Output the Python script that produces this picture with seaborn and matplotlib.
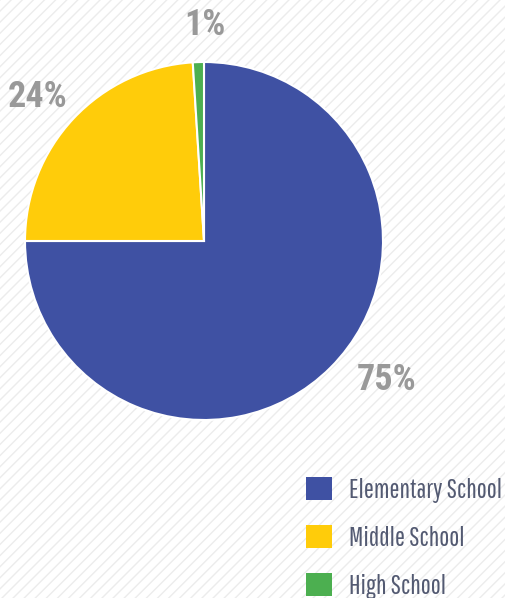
import matplotlib
matplotlib.use("Agg")
import matplotlib.pyplot as plt
import seaborn as sns
from matplotlib.patches import Rectangle

categories = ["Elementary School", "Middle School", "High School"]
shares = [75, 24, 1]
pct_labels = ["75%", "24%", "1%"]
colors = ["#3F51A3", "#FFCC0A", "#4CAF50"]

sns.set_theme(style="white")
plt.rcParams["font.family"] = ["Pathway Gothic One", "Roboto", "DejaVu Sans"]

fig = plt.figure(figsize=(5.06, 5.98), dpi=100)
fig.patch.set_facecolor("white")
fig.patches.append(Rectangle((0, 0), 1, 1, transform=fig.transFigure,
                             facecolor="white", edgecolor="#ececec",
                             hatch="///", linewidth=0, zorder=-10))

ax = fig.add_axes([25 / 506, 178 / 598, 358 / 506, 358 / 598])
ax.set_facecolor("none")
pal = sns.color_palette(colors)
wedges, _ = ax.pie(shares, colors=pal, startangle=90, counterclock=False,
                   radius=1, wedgeprops=dict(edgecolor="white", linewidth=1.5))
ax.set_xlim(-1, 1)
ax.set_ylim(-1, 1)
ax.set_aspect("equal")
ax.axis("off")

label_pos = [(1.022, -0.777), (-0.927, 0.804), (0.006, 1.207)]
for txt, (x, y) in zip(pct_labels, label_pos):
    ax.text(x, y, txt, ha="center", va="center", fontsize=26,
            fontweight="bold", color="#999999", clip_on=False,
            family=["Roboto Condensed", "Roboto", "DejaVu Sans"])

leg = fig.legend(wedges, categories, loc="upper left",
                 bbox_to_anchor=(306 / 506, 1 - 477 / 598),
                 bbox_transform=fig.transFigure, frameon=False,
                 fontsize=19.3, handlelength=0.97, handleheight=0.97,
                 labelspacing=0.82, handletextpad=0.62,
                 borderpad=0, borderaxespad=0)
for t in leg.get_texts():
    t.set_color("#535a72")
for h in leg.legend_handles:
    h.set_edgecolor("none")

fig.savefig("out.png", dpi=100)
